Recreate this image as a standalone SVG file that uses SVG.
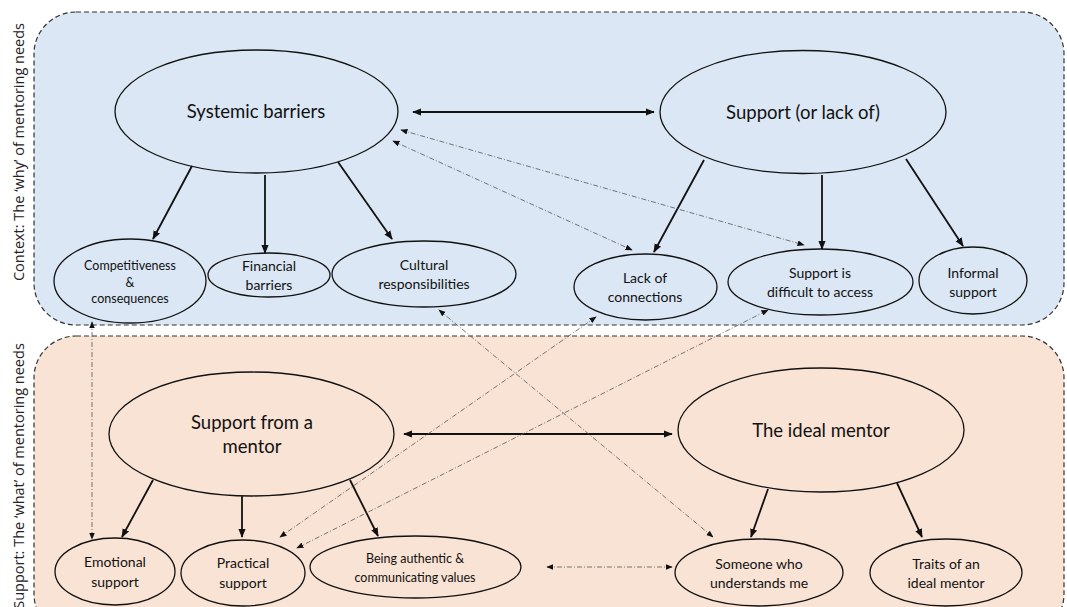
<svg xmlns="http://www.w3.org/2000/svg" width="1067" height="607" viewBox="0 0 1067 607">
<style>
.panel{stroke:#333;stroke-width:1.2;stroke-dasharray:5 3}
.node{fill:none;stroke:#111;stroke-width:1.3}
.t{font-family:Lato,"Liberation Sans",sans-serif;fill:#111;text-anchor:middle}
.big{font-size:18.5px}
.mid{font-size:14px}
.sm{font-size:12.5px}
.side{font-family:"Open Sans","Liberation Sans",sans-serif;font-size:14.5px;fill:#222;text-anchor:middle}
.solid{stroke:#111;stroke-width:1.8;fill:none;marker-end:url(#ah)}
.both{stroke:#111;stroke-width:1.8;fill:none;marker-end:url(#ah);marker-start:url(#ahs)}
.dash{stroke:#555;stroke-width:0.8;fill:none;stroke-dasharray:5 2 1 2;marker-end:url(#dh);marker-start:url(#dhs)}
</style>
<defs>
<marker id="ah" viewBox="0 0 10 10" refX="9" refY="5" markerWidth="5" markerHeight="5" orient="auto" markerUnits="strokeWidth"><path d="M0,1 L10,5 L0,9 z" fill="#111"/></marker>
<marker id="ahs" viewBox="0 0 10 10" refX="1" refY="5" markerWidth="5" markerHeight="5" orient="auto" markerUnits="strokeWidth"><path d="M10,1 L0,5 L10,9 z" fill="#111"/></marker>
<marker id="dh" viewBox="0 0 10 10" refX="9" refY="5" markerWidth="9" markerHeight="9" orient="auto" markerUnits="strokeWidth"><path d="M0,1 L10,5 L0,9 z" fill="#111"/></marker>
<marker id="dhs" viewBox="0 0 10 10" refX="1" refY="5" markerWidth="9" markerHeight="9" orient="auto" markerUnits="strokeWidth"><path d="M10,1 L0,5 L10,9 z" fill="#111"/></marker>
</defs>
<rect width="1067" height="607" fill="#fff"/>
<g id="panels">
<rect class="panel" x="34" y="12" width="1030" height="313" rx="42" fill="#dbe7f4"/>
<rect class="panel" x="34" y="336" width="1030" height="300" rx="42" fill="#f9e3d5"/>
<text class="side" transform="translate(24,152) rotate(-90)">Context:  The  ‘why’  of  mentoring needs</text>
<text class="side" transform="translate(24,476) rotate(-90)">Support:  The  ‘what’  of  mentoring needs</text>
</g>
<g id="connectors">
<line class="both" x1="413" y1="112" x2="654" y2="112"/>
<line class="solid" x1="192" y1="166" x2="153" y2="239"/>
<line class="solid" x1="265" y1="175" x2="265" y2="253"/>
<line class="solid" x1="338" y1="162" x2="392" y2="239"/>
<line class="solid" x1="704" y1="160" x2="654" y2="252"/>
<line class="solid" x1="822" y1="175" x2="822" y2="249"/>
<line class="solid" x1="906" y1="159" x2="963" y2="246"/>
<line class="both" x1="404" y1="434" x2="672" y2="434"/>
<line class="solid" x1="153" y1="480" x2="122" y2="537"/>
<line class="solid" x1="242" y1="496" x2="242" y2="537"/>
<line class="solid" x1="350" y1="480" x2="378" y2="536"/>
<line class="solid" x1="768" y1="489" x2="751" y2="537"/>
<line class="solid" x1="897" y1="483" x2="922" y2="537"/>
<line class="dash" x1="401" y1="130" x2="804" y2="245"/>
<line class="dash" x1="393" y1="141" x2="632" y2="250"/>
<line class="dash" x1="92" y1="322" x2="92" y2="539"/>
<line class="dash" x1="439" y1="310" x2="713" y2="537"/>
<line class="dash" x1="280" y1="537" x2="596" y2="317"/>
<line class="dash" x1="297" y1="548" x2="768" y2="310"/>
<line class="dash" x1="547" y1="567" x2="672" y2="567"/>
</g>
<g id="n-systemic"><ellipse class="node" cx="256.5" cy="111.5" rx="141.5" ry="61.5"/><text class="t big" x="256" y="118">Systemic barriers</text></g>
<g id="n-support"><ellipse class="node" cx="803" cy="112" rx="143" ry="61.5"/><text class="t big" x="803" y="119">Support (or lack of)</text></g>
<g id="n-compet"><ellipse class="node" cx="130" cy="281" rx="76" ry="42"/><text class="t sm"><tspan x="130" y="270">Competitiveness</tspan><tspan x="130" y="287">&amp;</tspan><tspan x="130" y="303">consequences</tspan></text></g>
<g id="n-financial"><ellipse class="node" cx="269" cy="275" rx="61" ry="22"/><text class="t mid"><tspan x="269" y="271">Financial</tspan><tspan x="269" y="290">barriers</tspan></text></g>
<g id="n-cultural"><ellipse class="node" cx="424" cy="274" rx="92" ry="33"/><text class="t mid"><tspan x="424" y="270">Cultural</tspan><tspan x="424" y="289">responsibilities</tspan></text></g>
<g id="n-lack"><ellipse class="node" cx="645.5" cy="287" rx="71.5" ry="33"/><text class="t mid"><tspan x="645" y="283">Lack of</tspan><tspan x="645" y="302">connections</tspan></text></g>
<g id="n-difficult"><ellipse class="node" cx="820.5" cy="282" rx="92.5" ry="33"/><text class="t mid"><tspan x="820" y="278">Support is</tspan><tspan x="820" y="297">difficult to access</tspan></text></g>
<g id="n-informal"><ellipse class="node" cx="973" cy="280.5" rx="54" ry="33.5"/><text class="t mid"><tspan x="973" y="278">Informal</tspan><tspan x="973" y="297">support</tspan></text></g>
<g id="n-frommentor"><ellipse class="node" cx="251.5" cy="434" rx="142.5" ry="62"/><text class="t big"><tspan x="252" y="429">Support from a</tspan><tspan x="252" y="453">mentor</tspan></text></g>
<g id="n-ideal"><ellipse class="node" cx="821" cy="430" rx="143" ry="62"/><text class="t big" x="821" y="437">The ideal mentor</text></g>
<g id="n-emotional"><ellipse class="node" cx="115" cy="571.5" rx="60" ry="33.5"/><text class="t mid"><tspan x="115" y="567">Emotional</tspan><tspan x="115" y="587">support</tspan></text></g>
<g id="n-practical"><ellipse class="node" cx="243" cy="573" rx="62" ry="33"/><text class="t mid"><tspan x="243" y="568">Practical</tspan><tspan x="243" y="588">support</tspan></text></g>
<g id="n-authentic"><ellipse class="node" cx="415.5" cy="567" rx="105.5" ry="31"/><text class="t sm"><tspan x="415" y="563">Being authentic &amp;</tspan><tspan x="415" y="582">communicating values</tspan></text></g>
<g id="n-someone"><ellipse class="node" cx="759" cy="572.5" rx="84" ry="33.5"/><text class="t mid"><tspan x="759" y="569">Someone who</tspan><tspan x="759" y="588">understands me</tspan></text></g>
<g id="n-traits"><ellipse class="node" cx="946" cy="572.5" rx="76" ry="33.5"/><text class="t mid"><tspan x="946" y="569">Traits of an</tspan><tspan x="946" y="588">ideal mentor</tspan></text></g>
</svg>
